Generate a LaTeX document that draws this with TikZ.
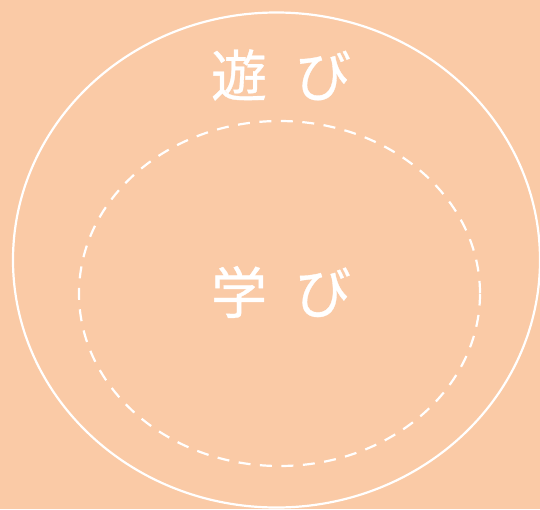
\documentclass[tikz,border=0pt]{standalone}
\usepackage{fontspec}
\newfontfamily\jpfont[FakeBold=0.6]{Noto Sans CJK JP}
\definecolor{peach}{RGB}{250,202,166}
\tikzset{
  outerring/.style={draw=white, line width=2.2pt},
  innerring/.style={draw=white, line width=2.2pt, dash pattern=on 12pt off 9.5pt},
  label/.style={text=white, font=\jpfont\fontsize{56pt}{56pt}\selectfont, inner sep=0pt, anchor=center}
}
\begin{document}
\begin{tikzpicture}[x=1pt,y=-1pt]
  \fill[peach] (0,0) rectangle (540,509);
  \useasboundingbox (0,0) rectangle (540,509);
  \clip (0,0) rectangle (540,509);
  \draw[outerring] (276.5,260) ellipse [x radius=263.5, y radius=247.5];
  \draw[innerring] (279.5,293.5) ellipse [x radius=200.5, y radius=172.5];
  \node[label] (asobi) at (281,75) {遊\hspace{28pt}び};
  \node[label] (manabi) at (281,292) {学\hspace{28pt}び};
\end{tikzpicture}
\end{document}
